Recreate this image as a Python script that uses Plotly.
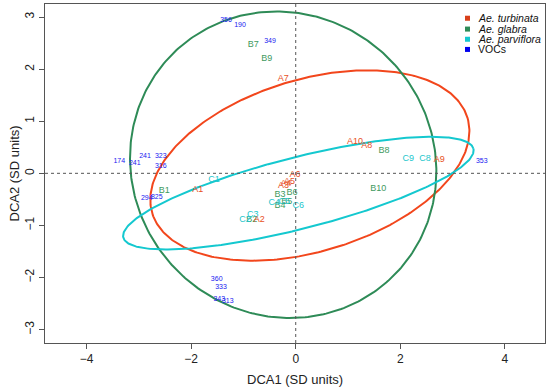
import numpy as np
import plotly.graph_objects as go

# ---- data ----
a_labels = ["A1", "A2", "A3", "A4", "A5", "A6", "A7", "A8", "A9", "A10"]
a_x = [-1.874, -0.696, -0.233, -0.185, -0.119, -0.013, -0.237, 1.358, 2.746, 1.134]
a_y = [-0.321, -0.896, -0.244, -0.195, -0.157, -0.023, 1.823, 0.524, 0.269, 0.607]

b_labels = ["B1", "B2", "B3", "B4", "B5", "B6", "B7", "B8", "B9", "B10"]
b_x = [-2.512, -0.841, -0.300, -0.300, -0.172, -0.071, -0.811, 1.688, -0.554, 1.580]
b_y = [-0.340, -0.896, -0.417, -0.622, -0.545, -0.365, 2.463, 0.428, 2.207, -0.301]

c_labels = ["C1", "C2", "C3", "C4", "C5", "C6", "C8", "C9"]
c_x = [-1.562, -0.969, -0.822, -0.409, -0.220, 0.050, 2.472, 2.153]
c_y = [-0.129, -0.896, -0.800, -0.564, -0.545, -0.622, 0.288, 0.288]

voc_labels = ["356", "190", "349", "174", "241", "241", "323", "316", "294", "825",
              "353", "360", "333", "343", "313"]
voc_x = [-1.333, -1.065, -0.491, -3.373, -2.881, -3.078, -2.581, -2.581, -2.849, -2.658,
         3.556, -1.511, -1.428, -1.461, -1.300]
voc_y = [2.942, 2.847, 2.540, 0.236, 0.326, 0.192, 0.326, 0.127, -0.488, -0.455,
         0.223, -2.029, -2.188, -2.418, -2.464]

# ellipses: turbinata, glabra, parviflora
ell_cx = [0.27, -0.24, 0.05]
ell_cy = [0.15, 0.165, -0.38]
ell_a = [3.15, 3.0, 3.454]
ell_b = [1.65, 2.87, 0.686]
ell_angle = [17, -48, 14.3]

legend_names = ["<i>Ae. turbinata</i>", "<i>Ae. glabra</i>", "<i>Ae. parviflora</i>", "VOCs"]

RED = "#F2461C"
GREEN = "#2E8B57"
CYAN = "#14C8CF"
BLUE = "#2020F0"
ell_colors = [RED, GREEN, CYAN]
legend_colors = ["#D8401A", GREEN, CYAN, "#0000EE"]

FONT = "Liberation Sans, Arial, sans-serif"

fig = go.Figure()

t = np.linspace(0, 2 * np.pi, 361)
for cx, cy, a, b, ang, col in zip(ell_cx, ell_cy, ell_a, ell_b, ell_angle, ell_colors):
    th = np.deg2rad(ang)
    ex = cx + a * np.cos(t) * np.cos(th) - b * np.sin(t) * np.sin(th)
    ey = cy + a * np.cos(t) * np.sin(th) + b * np.sin(t) * np.cos(th)
    fig.add_trace(go.Scatter(x=ex, y=ey, mode="lines", line=dict(color=col, width=2),
                             hoverinfo="skip", showlegend=False))

for labs, xs, ys, col, sz in [
    (voc_labels, voc_x, voc_y, BLUE, 7),
    (b_labels, b_x, b_y, "#3E9A60", 9),
    (c_labels, c_x, c_y, "#22C6CC", 9),
    (a_labels, a_x, a_y, "#E8501E", 9),
]:
    fig.add_trace(go.Scatter(x=xs, y=ys, mode="text", text=labs,
                             textfont=dict(color=col, size=sz, family=FONT),
                             textposition="middle center", showlegend=False))

# dotted zero lines
fig.add_shape(type="line", x0=0, x1=0, y0=0, y1=1, xref="x", yref="paper",
              line=dict(color="#555555", width=1, dash="dot"))
fig.add_shape(type="line", x0=0, x1=1, y0=0, y1=0, xref="paper", yref="y",
              line=dict(color="#555555", width=1, dash="dot"))

# legend (manual)
leg_y = [0.958, 0.926, 0.896, 0.866]
for name, col, yy in zip(legend_names, legend_colors, leg_y):
    fig.add_shape(type="rect", xref="paper", yref="paper",
                  x0=0.840, x1=0.850, y0=yy - 0.0074, y1=yy + 0.0074,
                  fillcolor=col, line=dict(width=0))
    fig.add_annotation(x=0.862, y=yy, xref="paper", yref="paper", text=name,
                       showarrow=False, xanchor="left", yanchor="middle",
                       font=dict(size=10.5, color="#111111", family=FONT))

# axis titles (manual)
fig.add_annotation(x=0.5, y=-0.109, xref="paper", yref="paper", text="DCA1 (SD units)",
                   showarrow=False, xanchor="center", yanchor="middle",
                   font=dict(size=13, color="#222222", family=FONT))
fig.add_annotation(x=-0.062, y=0.5, xref="paper", yref="paper", text="DCA2 (SD units)",
                   showarrow=False, xanchor="center", yanchor="middle", textangle=-90,
                   font=dict(size=13, color="#222222", family=FONT))

axis_common = dict(showgrid=False, zeroline=False, showline=True, mirror=True,
                   linecolor="#555555", linewidth=1, ticks="outside", ticklen=5,
                   tickcolor="#555555", automargin=False,
                   tickfont=dict(size=12, color="#222222", family=FONT))

fig.update_xaxes(range=[-4.794, 4.766], tickvals=[-4, -2, 0, 2, 4], **axis_common)
fig.update_yaxes(range=[-3.257, 3.25], tickvals=[-3, -2, -1, 0, 1, 2, 3], tickangle=-90,
                 **axis_common)

fig.update_layout(width=550, height=391, margin=dict(l=45, r=5, t=4, b=48, autoexpand=False),
                  plot_bgcolor="white", paper_bgcolor="white", showlegend=False,
                  hovermode=False, font=dict(family=FONT))

fig.write_html("out.html", config={"displayModeBar": False, "staticPlot": True},
               post_script="document.body.style.margin='0';document.body.style.overflow='hidden';")
